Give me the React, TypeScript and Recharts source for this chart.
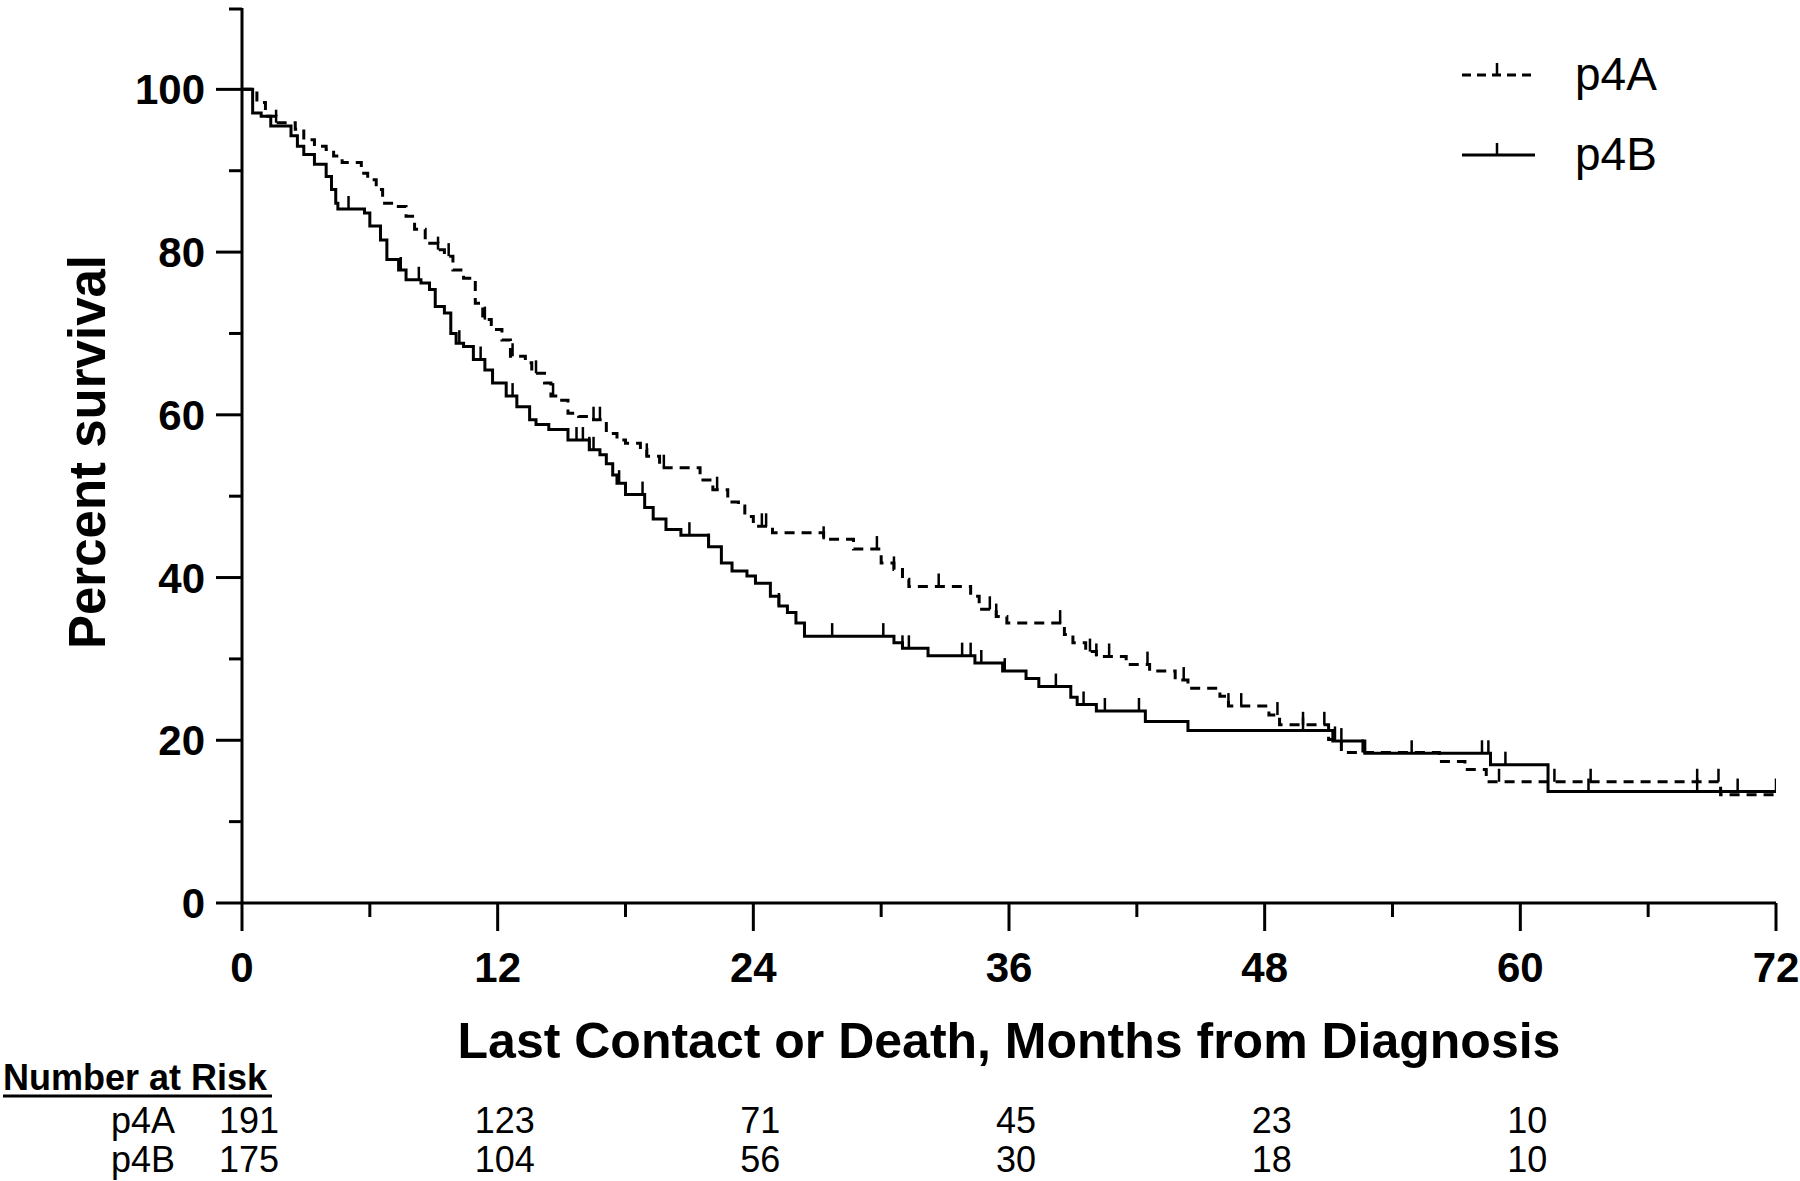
import { ComposedChart, Line, Scatter, XAxis, YAxis } from "recharts";

// Kaplan-Meier steps: time in months, percent surviving
const p4aTime = [0, 0.7, 1.1, 1.6, 2.5, 2.9, 3.4, 3.95, 4.3, 4.7, 5.6, 5.9, 6.3, 6.6, 7.2, 7.7, 8.1, 8.6, 9.2, 9.5, 9.9, 10.4, 10.95, 11.3, 11.7, 12.2, 12.6, 13.3, 13.6, 14.2, 14.5, 14.9, 15.3, 15.8, 16.5, 17.1, 17.6, 18.0, 18.7, 19.0, 19.6, 21.5, 22.1, 22.8, 23.3, 23.6, 24.0, 24.9, 27.3, 28.7, 30.0, 30.6, 31.0, 31.3, 34.2, 34.6, 35.4, 35.9, 38.6, 39.0, 39.6, 40.1, 41.5, 42.6, 43.8, 44.4, 45.9, 46.3, 48.2, 48.7, 51.0, 51.6, 56.2, 57.4, 58.4, 69.4, 72];
const p4aSurv = [100, 98.4, 96.7, 95.9, 95.1, 93.8, 93.0, 92.6, 91.8, 91.0, 89.7, 88.9, 87.7, 86.0, 85.6, 84.4, 82.8, 81.1, 80.3, 79.5, 77.8, 76.8, 73.7, 71.7, 70.5, 69.2, 67.2, 66.4, 65.1, 63.9, 62.3, 61.8, 60.2, 59.8, 59.4, 57.7, 56.9, 56.5, 55.7, 54.9, 53.5, 52.0, 50.8, 49.3, 48.8, 47.5, 46.3, 45.5, 44.7, 43.5, 41.8, 41.0, 39.8, 38.9, 37.7, 36.1, 35.2, 34.4, 33.0, 32.0, 30.9, 30.3, 29.3, 28.5, 27.4, 26.4, 25.4, 24.2, 23.1, 21.9, 20.1, 18.5, 17.4, 16.4, 14.9, 13.3, 13.3];

const p4bTime = [0, 0.5, 0.9, 1.35, 2.3, 2.6, 2.9, 3.4, 3.95, 4.2, 4.4, 4.5, 5.75, 6.0, 6.5, 6.8, 7.35, 7.7, 8.4, 8.8, 9.07, 9.5, 9.8, 10.05, 10.4, 10.86, 11.4, 11.76, 12.4, 12.9, 13.5, 13.8, 14.4, 15.3, 16.3, 16.8, 17.1, 17.4, 17.6, 18.0, 18.9, 19.3, 19.9, 20.6, 21.9, 22.5, 23.0, 23.7, 24.1, 24.8, 25.2, 25.6, 26.0, 26.4, 30.6, 31.0, 32.2, 34.4, 35.7, 36.8, 37.4, 38.9, 39.2, 40.1, 42.4, 44.4, 51.2, 52.7, 58.6, 61.3, 72];
const p4bSurv = [100, 97.1, 96.7, 95.5, 94.3, 93.0, 92.0, 90.8, 89.3, 87.7, 86.0, 85.3, 84.8, 83.2, 81.5, 79.1, 77.8, 76.6, 76.2, 75.4, 73.3, 72.5, 70.0, 68.8, 68.4, 66.8, 65.5, 63.9, 62.3, 61.0, 59.4, 58.8, 58.2, 56.9, 55.7, 55.1, 54.0, 52.6, 51.6, 50.2, 48.6, 47.2, 45.9, 45.2, 43.8, 41.8, 40.8, 40.2, 39.3, 37.7, 36.5, 35.7, 34.4, 32.8, 32.0, 31.3, 30.4, 29.5, 28.5, 27.6, 26.6, 25.3, 24.4, 23.6, 22.3, 21.2, 19.9, 18.4, 17.0, 13.7, 13.7];

// censored observations (tick marks)
const p4aCensor = [1.6, 9.2, 9.7, 11.4, 12.7, 13.8, 14.6, 16.5, 16.8, 19.0, 19.8, 22.3, 24.4, 24.6, 27.3, 29.8, 30.6, 32.7, 35.1, 35.4, 38.4, 39.8, 40.1, 40.7, 42.5, 44.2, 46.3, 46.9, 48.6, 49.8, 50.8, 51.3, 52.6, 59.0, 61.6, 63.3, 68.3, 69.3];
const p4bCensor = [5.0, 7.45, 8.3, 10.2, 11.2, 12.7, 15.7, 16.0, 16.3, 16.5, 17.7, 18.8, 21.0, 21.9, 25.2, 26.4, 27.7, 30.1, 31.0, 31.3, 33.8, 34.2, 34.7, 35.8, 38.2, 39.5, 40.5, 42.1, 49.8, 51.6, 52.7, 54.9, 58.2, 58.5, 59.3, 63.2, 68.3, 70.2, 72];

const xTicks = [0, 6, 12, 18, 24, 30, 36, 42, 48, 54, 60, 66, 72];
const yTicks = [0, 10, 20, 30, 40, 50, 60, 70, 80, 90, 100, 110];

const riskMonths = [0, 12, 24, 36, 48, 60];
const riskA = [191, 123, 71, 45, 23, 10];
const riskB = [175, 104, 56, 30, 18, 10];

const FONT = "'Liberation Sans', Arial, Helvetica, sans-serif";
const W = 1800;
const H = 1181;
const M = { top: 8, right: 24, left: 142, bottom: 198 };
const Y_AXIS_W = 100;
const X_AXIS_H = 80;
const plotLeft = M.left + Y_AXIS_W;
const plotRight = W - M.right;
const xOf = (m: number) => plotLeft + ((plotRight - plotLeft) * m) / 72;

const steps = (t: number[], s: number[]) => t.map((v, i) => ({ t: v, s: s[i] }));

const survAt = (t: number[], s: number[], at: number) => {
  let v = s[0];
  for (let i = 0; i < t.length; i++) if (t[i] <= at) v = s[i];
  return v;
};

const censors = (c: number[], t: number[], s: number[]) => c.map((m) => ({ t: m, s: survAt(t, s, m) }));

const dataA = steps(p4aTime, p4aSurv);
const dataB = steps(p4bTime, p4bSurv);
const censA = censors(p4aCensor, p4aTime, p4aSurv);
const censB = censors(p4bCensor, p4bTime, p4bSurv);

const CensorMark = (props: any) => {
  const { cx, cy } = props;
  return <line x1={cx} x2={cx} y1={cy} y2={cy - 13} stroke="#000" strokeWidth={2.5} />;
};

const XTick = (props: any) => {
  const { x, y, payload } = props;
  const major = payload.value % 12 === 0;
  return (
    <g>
      <line x1={x} x2={x} y1={y} y2={y + (major ? 28 : 14)} stroke="#000" strokeWidth={3} />
      {major && (
        <text x={x} y={y + 79} textAnchor="middle" fontSize={42} fontWeight="bold" fontFamily={FONT} fill="#000">
          {payload.value}
        </text>
      )}
    </g>
  );
};

const YTick = (props: any) => {
  const { x, y, payload } = props;
  const major = payload.value % 20 === 0 && payload.value <= 100;
  return (
    <g>
      <line x1={x} x2={x - (major ? 26 : 13)} y1={y} y2={y} stroke="#000" strokeWidth={3} />
      {major && (
        <text x={x - 37} y={y + 15} textAnchor="end" fontSize={42} fontWeight="bold" fontFamily={FONT} fill="#000">
          {payload.value}
        </text>
      )}
    </g>
  );
};

export default function App() {
  return (
    <div style={{ position: "relative", width: W, height: H, background: "#fff", overflow: "visible" }}>
      <style>{`html, body { margin: 0; padding: 0; overflow: hidden; background: #fff; }`}</style>
      <ComposedChart width={W} height={H} margin={M} style={{ overflow: "visible" }}>
        <XAxis
          dataKey="t"
          type="number"
          domain={[0, 72]}
          ticks={xTicks}
          allowDataOverflow
          height={X_AXIS_H}
          tickSize={0}
          tickMargin={0}
          tickLine={false}
          tick={<XTick />}
          axisLine={{ stroke: "#000", strokeWidth: 3 }}
        />
        <YAxis
          dataKey="s"
          type="number"
          domain={[0, 110]}
          ticks={yTicks}
          width={Y_AXIS_W}
          tickSize={0}
          tickMargin={0}
          tickLine={false}
          tick={<YTick />}
          axisLine={{ stroke: "#000", strokeWidth: 3 }}
        />
        <Line
          data={dataA}
          dataKey="s"
          type="stepAfter"
          stroke="#000"
          strokeWidth={3}
          strokeDasharray="10 7"
          dot={false}
          activeDot={false}
          isAnimationActive={false}
        />
        <Line
          data={dataB}
          dataKey="s"
          type="stepAfter"
          stroke="#000"
          strokeWidth={3}
          dot={false}
          activeDot={false}
          isAnimationActive={false}
        />
        <Scatter data={censA} dataKey="s" shape={<CensorMark />} isAnimationActive={false} />
        <Scatter data={censB} dataKey="s" shape={<CensorMark />} isAnimationActive={false} />
      </ComposedChart>

      <svg
        width={W}
        height={H}
        style={{ position: "absolute", left: 0, top: 0, pointerEvents: "none" }}
        fontFamily={FONT}
      >
        <text x={105} y={452} transform="rotate(-90 105 452)" textAnchor="middle" fontSize={51} fontWeight="bold">
          Percent survival
        </text>
        <text x={(plotLeft + plotRight) / 2} y={1058} textAnchor="middle" fontSize={50} fontWeight="bold">
          Last Contact or Death, Months from Diagnosis
        </text>

        {/* legend */}
        <line x1={1462} x2={1535} y1={75} y2={75} stroke="#000" strokeWidth={3} strokeDasharray="9 6" />
        <line x1={1497} x2={1497} y1={75} y2={63} stroke="#000" strokeWidth={2.5} />
        <text x={1575} y={90} fontSize={46}>p4A</text>
        <line x1={1462} x2={1535} y1={155} y2={155} stroke="#000" strokeWidth={3} />
        <line x1={1497} x2={1497} y1={155} y2={143} stroke="#000" strokeWidth={2.5} />
        <text x={1575} y={170} fontSize={46}>p4B</text>

        {/* number at risk */}
        <text x={3} y={1090} fontSize={36} fontWeight="bold">Number at Risk</text>
        <line x1={3} x2={272} y1={1096} y2={1096} stroke="#000" strokeWidth={3} />
        <text x={111} y={1133} fontSize={36}>p4A</text>
        <text x={111} y={1172} fontSize={36}>p4B</text>
        {riskMonths.map((m, i) => (
          <g key={m}>
            <text x={xOf(m) + 7} y={1133} fontSize={36} textAnchor="middle">{riskA[i]}</text>
            <text x={xOf(m) + 7} y={1172} fontSize={36} textAnchor="middle">{riskB[i]}</text>
          </g>
        ))}
      </svg>
    </div>
  );
}
